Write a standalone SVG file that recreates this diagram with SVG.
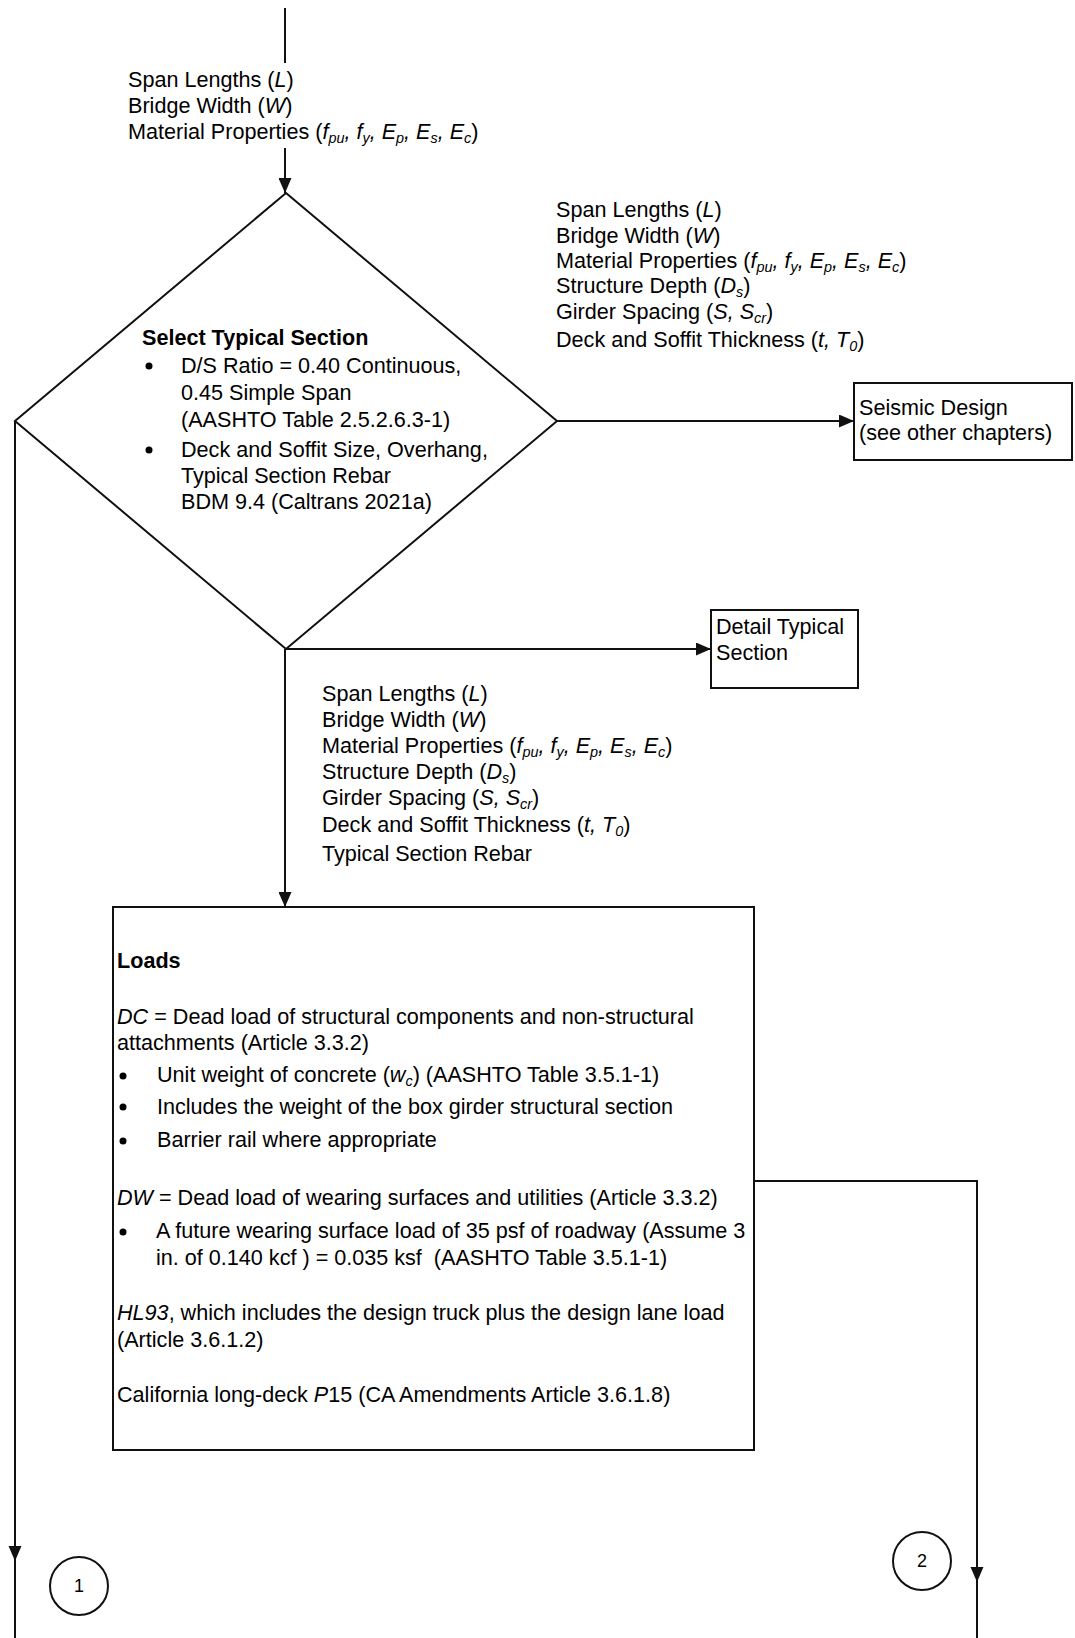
<svg xmlns="http://www.w3.org/2000/svg" width="1075" height="1638" viewBox="0 0 1075 1638">
  <style>
    text { font-family: "Liberation Sans", Arial, sans-serif; font-size: 21.6px; fill: #000; }
    .b { font-weight: bold; }
    .i { font-style: italic; }
    .s { font-size: 14.4px; font-style: italic; }
    .num { font-size: 18px; text-anchor: middle; }
    .shape { fill: #fff; stroke: #111; stroke-width: 2; }
    .wire { fill: none; stroke: #111; stroke-width: 2; }
    .head { fill: #111; stroke: none; }
    .dot { fill: #000; }
  </style>
  <defs>
    <marker id="arrow" viewBox="0 0 15 13" refX="15" refY="6.5" markerWidth="15" markerHeight="13" markerUnits="userSpaceOnUse" orient="auto">
      <path d="M0,0 L15,6.5 L0,13 z" fill="#111"/>
    </marker>
  </defs>

  <!-- connectors -->
  <g id="connectors">
    <path class="wire" d="M285,8 V63"/>
    <path class="wire" d="M285,148 V193" marker-end="url(#arrow)"/>
    <path class="wire" d="M557,421 H854" marker-end="url(#arrow)"/>
    <path class="wire" d="M285,649 H711" marker-end="url(#arrow)"/>
    <path class="wire" d="M285,649 V907" marker-end="url(#arrow)"/>
    <path class="wire" d="M15,421 V1638"/>
    <polygon class="head" points="8.5,1546 21.5,1546 15,1561"/>
    <path class="wire" d="M754,1181 H977 V1638"/>
    <polygon class="head" points="970.5,1567 983.5,1567 977,1582"/>
  </g>

  <!-- input labels on the connectors -->
  <g id="label-inputs">
    <text x="128" y="87">Span Lengths (<tspan class="i">L</tspan>)</text>
    <text x="128" y="113">Bridge Width (<tspan class="i">W</tspan>)</text>
    <text x="128" y="139">Material Properties (<tspan class="i">f</tspan><tspan class="s" dy="4">pu</tspan><tspan class="i" dy="-4">, f</tspan><tspan class="s" dy="4">y</tspan><tspan class="i" dy="-4">, E</tspan><tspan class="s" dy="4">p</tspan><tspan class="i" dy="-4">, E</tspan><tspan class="s" dy="4">s</tspan><tspan class="i" dy="-4">, E</tspan><tspan class="s" dy="4">c</tspan><tspan dy="-4">)</tspan></text>
  </g>

  <g id="label-seismic">
    <text x="556" y="217">Span Lengths (<tspan class="i">L</tspan>)</text>
    <text x="556" y="243">Bridge Width (<tspan class="i">W</tspan>)</text>
    <text x="556" y="268">Material Properties (<tspan class="i">f</tspan><tspan class="s" dy="4">pu</tspan><tspan class="i" dy="-4">, f</tspan><tspan class="s" dy="4">y</tspan><tspan class="i" dy="-4">, E</tspan><tspan class="s" dy="4">p</tspan><tspan class="i" dy="-4">, E</tspan><tspan class="s" dy="4">s</tspan><tspan class="i" dy="-4">, E</tspan><tspan class="s" dy="4">c</tspan><tspan dy="-4">)</tspan></text>
    <text x="556" y="293">Structure Depth (<tspan class="i">D</tspan><tspan class="s" dy="4">s</tspan><tspan dy="-4">)</tspan></text>
    <text x="556" y="319">Girder Spacing (<tspan class="i">S, S</tspan><tspan class="s" dy="4">cr</tspan><tspan dy="-4">)</tspan></text>
    <text x="556" y="347">Deck and Soffit Thickness (<tspan class="i">t, T</tspan><tspan class="s" dy="4">0</tspan><tspan dy="-4">)</tspan></text>
  </g>

  <g id="label-loads">
    <text x="322" y="701">Span Lengths (<tspan class="i">L</tspan>)</text>
    <text x="322" y="727">Bridge Width (<tspan class="i">W</tspan>)</text>
    <text x="322" y="753">Material Properties (<tspan class="i">f</tspan><tspan class="s" dy="4">pu</tspan><tspan class="i" dy="-4">, f</tspan><tspan class="s" dy="4">y</tspan><tspan class="i" dy="-4">, E</tspan><tspan class="s" dy="4">p</tspan><tspan class="i" dy="-4">, E</tspan><tspan class="s" dy="4">s</tspan><tspan class="i" dy="-4">, E</tspan><tspan class="s" dy="4">c</tspan><tspan dy="-4">)</tspan></text>
    <text x="322" y="779">Structure Depth (<tspan class="i">D</tspan><tspan class="s" dy="4">s</tspan><tspan dy="-4">)</tspan></text>
    <text x="322" y="805">Girder Spacing (<tspan class="i">S, S</tspan><tspan class="s" dy="4">cr</tspan><tspan dy="-4">)</tspan></text>
    <text x="322" y="832">Deck and Soffit Thickness (<tspan class="i">t, T</tspan><tspan class="s" dy="4">0</tspan><tspan dy="-4">)</tspan></text>
    <text x="322" y="861">Typical Section Rebar</text>
  </g>

  <!-- decision: typical section -->
  <g id="select-typical-section">
    <polygon class="shape" points="286,193 557,421 286,649 15,421"/>
    <text class="b" x="142" y="345">Select Typical Section</text>
    <circle class="dot" cx="149" cy="366" r="3.5"/>
    <text x="181" y="373">D/S Ratio = 0.40 Continuous,</text>
    <text x="181" y="400">0.45 Simple Span</text>
    <text x="181" y="427">(AASHTO Table 2.5.2.6.3-1)</text>
    <circle class="dot" cx="149" cy="450" r="3.5"/>
    <text x="181" y="457">Deck and Soffit Size, Overhang,</text>
    <text x="181" y="483">Typical Section Rebar</text>
    <text x="181" y="509">BDM 9.4 (Caltrans 2021a)</text>
  </g>

  <g id="seismic-design">
    <rect class="shape" x="854" y="383" width="218" height="77"/>
    <text x="859" y="415">Seismic Design</text>
    <text x="859" y="440">(see other chapters)</text>
  </g>

  <g id="detail-typical-section">
    <rect class="shape" x="711" y="610" width="147" height="78"/>
    <text x="716" y="634">Detail Typical</text>
    <text x="716" y="660">Section</text>
  </g>

  <g id="loads">
    <rect class="shape" x="113" y="907" width="641" height="543"/>
    <text class="b" x="117" y="968">Loads</text>
    <text x="117" y="1024"><tspan class="i">DC</tspan> = Dead load of structural components and non-structural</text>
    <text x="117" y="1050">attachments (Article 3.3.2)</text>
    <circle class="dot" cx="123" cy="1076" r="3.5"/>
    <text x="157" y="1082">Unit weight of concrete (<tspan class="i">w</tspan><tspan class="s" dy="4">c</tspan><tspan dy="-4">) (AASHTO Table 3.5.1-1)</tspan></text>
    <circle class="dot" cx="123" cy="1107" r="3.5"/>
    <text x="157" y="1114">Includes the weight of the box girder structural section</text>
    <circle class="dot" cx="123" cy="1141" r="3.5"/>
    <text x="157" y="1147">Barrier rail where appropriate</text>
    <text x="117" y="1205"><tspan class="i">DW</tspan> = Dead load of wearing surfaces and utilities (Article 3.3.2)</text>
    <circle class="dot" cx="123" cy="1232" r="3.5"/>
    <text x="156" y="1238">A future wearing surface load of 35 psf of roadway (Assume 3</text>
    <text x="156" y="1265">in. of 0.140 kcf ) = 0.035 ksf &#160;(AASHTO Table 3.5.1-1)</text>
    <text x="117" y="1320"><tspan class="i">HL93</tspan>, which includes the design truck plus the design lane load</text>
    <text x="117" y="1347">(Article 3.6.1.2)</text>
    <text x="117" y="1402">California long-deck <tspan class="i">P</tspan>15 (CA Amendments Article 3.6.1.8)</text>
  </g>

  <!-- off-page connectors -->
  <g id="connector-1">
    <ellipse class="shape" cx="79" cy="1586" rx="29" ry="29"/>
    <text class="num" x="79" y="1592">1</text>
  </g>
  <g id="connector-2">
    <ellipse class="shape" cx="922" cy="1561" rx="29" ry="29"/>
    <text class="num" x="922" y="1567">2</text>
  </g>
</svg>
